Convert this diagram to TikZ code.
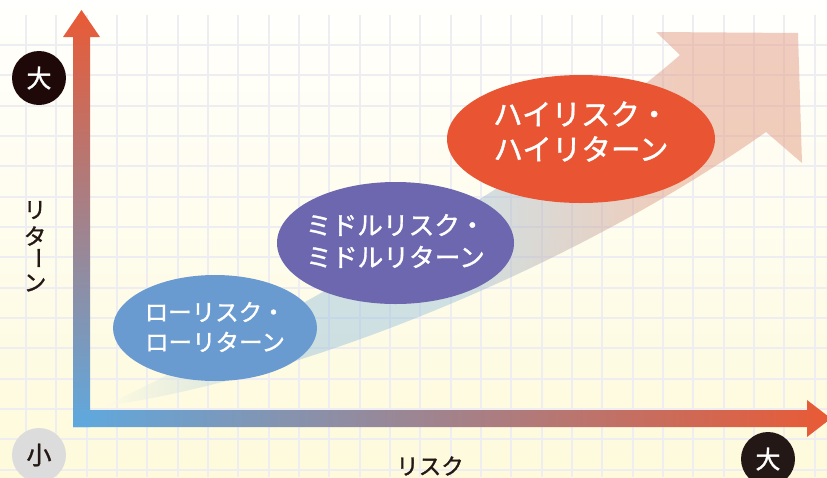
\documentclass[tikz,border=0pt]{standalone}
\usepackage{fontspec}
\newfontfamily\jp{Noto Sans CJK JP}[FakeBold=1.3]
\usetikzlibrary{shapes.geometric}
\definecolor{bgtop}{HTML}{FFFFFD}
\definecolor{bgbot}{HTML}{FEFADB}
\definecolor{gridc}{HTML}{EEEDF2}
\definecolor{bandL}{HTML}{FEFBE0}
\definecolor{bandB}{HTML}{A0C5DE}
\definecolor{bandO}{HTML}{E39C84}
\definecolor{axred}{HTML}{E95A35}
\definecolor{axblue}{HTML}{5EA9DF}
\definecolor{lowc}{HTML}{6A9BD0}
\definecolor{midc}{HTML}{6C67AE}
\definecolor{highc}{HTML}{E95532}
\definecolor{darkc}{HTML}{1F0808}
\definecolor{dark2}{HTML}{231815}
\definecolor{grayc}{HTML}{DCDCDC}
\pgfdeclarehorizontalshading{bandshade}{100bp}{color(0bp)=(bandL); color(25bp)=(bandL); color(38bp)=(bandB); color(50bp)=(bandB); color(66bp)=(bandO); color(100bp)=(bandO)}
\tikzset{
  gridline/.style={draw=gridc, line width=2pt},
  blob/.style={ellipse, inner sep=0pt, draw=none},
  lbl/.style={text=white, align=center, inner sep=0pt},
  badge/.style={circle, minimum size=54pt, inner sep=0pt, font=\jp\fontsize{25}{25}\selectfont},
  axlbl/.style={text=dark2, inner sep=0pt, font=\jp\fontsize{22.5}{22.5}\selectfont}
}
\begin{document}
\begin{tikzpicture}[x=1pt,y=-1pt]
\useasboundingbox (0,0) rectangle (827,477);
\clip (0,0) rectangle (827,477);
% background
\shade[top color=bgtop, bottom color=bgbot] (0,0) rectangle (827,477);
% grid
\foreach \k in {0,...,26} \draw[gridline] ({26+30.33*\k},15) -- ({26+30.33*\k},477);
\foreach \k in {0,...,14} \draw[gridline] (0,{45+30.33*\k}) -- (827,{45+30.33*\k});
% big translucent arrow
\shade[shading=bandshade, fill opacity=0.5]
  (105,406) .. controls (330,296) and (560,160) .. (680,55)
  -- (656,32) -- (798,33) -- (802,163) -- (766,132)
  .. controls (570,270) and (300,378) .. (105,406) -- cycle;
% ellipses
\node[blob, fill=lowc, minimum width=204pt, minimum height=106pt] (low) at (215,328) {};
\node[blob, fill=midc, minimum width=237pt, minimum height=122pt] (mid) at (395.5,243) {};
\node[blob, fill=highc, minimum width=268pt, minimum height=128pt] (high) at (581,139) {};
\node[lbl, font=\jp\fontsize{23.5}{30}\selectfont] (lowt) at (215,327) {ローリスク・\\ローリターン};
\node[lbl, font=\jp\fontsize{25.7}{32}\selectfont] (midt) at (395.5,241) {ミドルリスク・\\ミドルリターン};
\node[lbl, font=\jp\fontsize{29.5}{35}\selectfont] (hight) at (581,131.5) {ハイリスク・\\ハイリターン};
% axes
\shade[left color=axblue, right color=axred]
  (73,410) -- (807,410) -- (807,400) -- (831,418.5) -- (807,437) -- (807,427) -- (73,427) -- cycle;
\shade[top color=axred, bottom color=axblue]
  (73,37) -- (63,37) -- (81.5,10) -- (100,37) -- (90,37) -- (90,427) -- (73,427) -- cycle;
% badges
\node[badge, fill=darkc, text=white] (ybig) at (39,78) {大};
\node[badge, fill=grayc, text=dark2] (small) at (39,455) {小};
\node[badge, fill=dark2, text=white] (xbig) at (768,459) {大};
% axis labels
\node[axlbl] (r1) at (35,210) {リ};
\node[axlbl] (r2) at (35,236) {タ};
\node[axlbl, rotate=-90] (r3) at (35,258) {ー};
\node[axlbl] (r4) at (35,283) {ン};
\node[axlbl] (risk) at (430,466) {リスク};
\end{tikzpicture}
\end{document}
